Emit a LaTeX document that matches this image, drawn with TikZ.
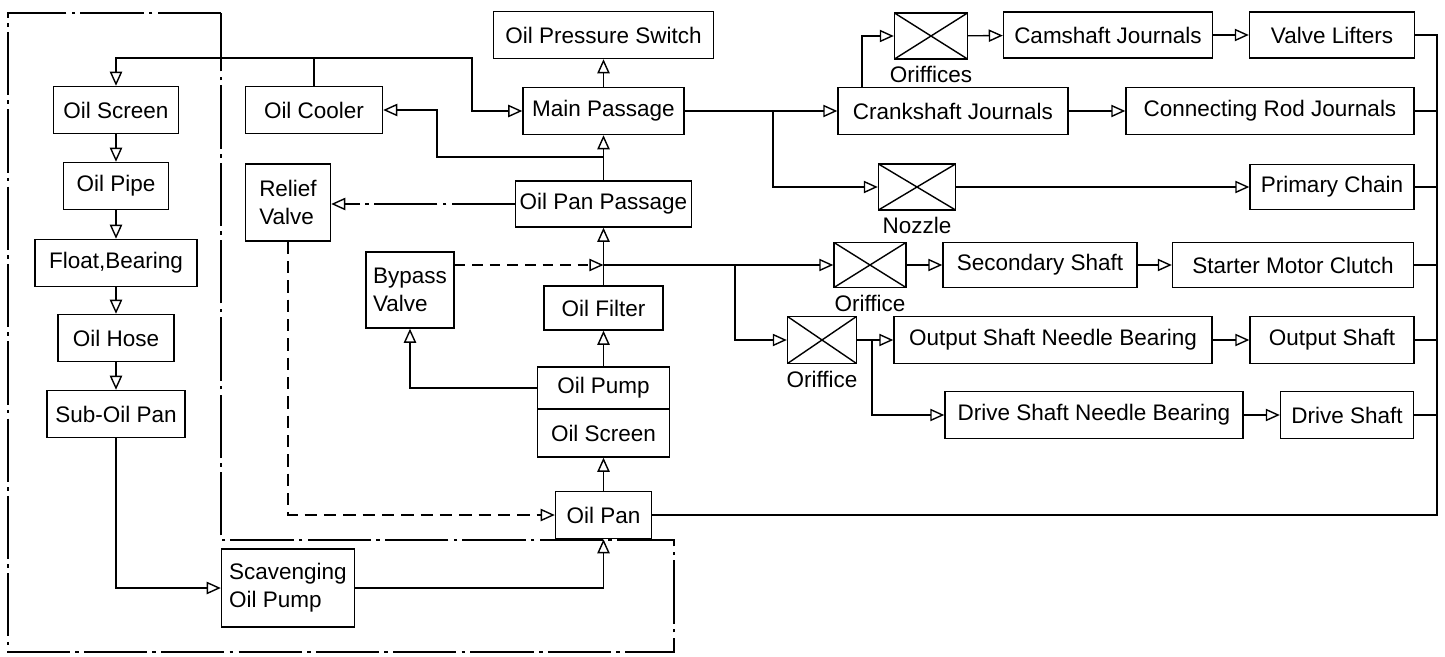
\documentclass[tikz,border=0pt]{standalone}
\usepackage{fontspec}
\setmainfont{Liberation Sans}
\usepackage{tikz}
\usetikzlibrary{shapes,positioning,calc}
\usetikzlibrary{arrows.meta}
\tikzstyle{part} = [rectangle, minimum height=0.94cm, text centered, draw=black, inner sep=2pt]
\tikzstyle{twoline} = [rectangle, align=left, draw=black, inner sep=2pt]
\tikzstyle{orifice} = [rectangle, minimum width=1.44cm, minimum height=0.92cm, draw=black,
path picture={\draw (path picture bounding box.north west) -- (path picture bounding box.south east)
(path picture bounding box.south west) -- (path picture bounding box.north east);}]
\tikzstyle{arrow} = [->,>={Triangle[open,length=8pt,width=7pt]}]
\tikzstyle{dashdot} = [dash pattern=on 36pt off 3pt on 2pt off 3pt]
\tikzstyle{returnline} = [dash pattern=on 7pt off 4pt]
\tikzstyle{bypassline} = [dash pattern=on 6pt off 4pt]

\begin{document}
\begin{tikzpicture}[line width=0.8pt, font=\fontsize{12.8}{16}\selectfont]
	\useasboundingbox (0,0) rectangle (28.9,-13.14);
	% scavenging side
	\node (screenA) at (2.32,-2.20) [part, minimum width=2.5cm] {Oil Screen};
	\node (pipe) at (2.32,-3.72) [part, minimum width=2.1cm] {Oil Pipe};
	\node (float) at (2.32,-5.26) [part, minimum width=3.24cm] {Float,Bearing};
	\node (hose) at (2.32,-6.76) [part, minimum width=2.32cm] {Oil Hose};
	\node (subpan) at (2.32,-8.28) [part, minimum width=2.76cm] {Sub-Oil Pan};
	\node (scav) at (5.76,-11.76) [twoline, minimum width=2.66cm, minimum height=1.56cm] {Scavenging\\Oil Pump};
	\node (cooler) at (6.28,-2.20) [part, minimum width=2.74cm] {Oil Cooler};
	\node (relief) at (5.76,-4.05) [twoline, minimum width=1.7cm, minimum height=1.54cm] {Relief\\Valve};
	\node (bypass) at (8.20,-5.80) [twoline, minimum width=1.76cm, minimum height=1.52cm] {Bypass\\Valve};
	% centre column
	\node (switch) at (12.07,-0.70) [part, minimum width=4.4cm] {Oil Pressure Switch};
	\node (mainp) at (12.07,-2.22) [part, minimum width=3.22cm] {Main Passage};
	\node (panpass) at (12.07,-4.08) [part, minimum width=3.52cm, minimum height=0.92cm] {Oil Pan Passage};
	\node (filter) at (12.07,-6.16) [part, minimum width=2.38cm, minimum height=0.88cm] {Oil Filter};
	\node (pump) at (12.07,-7.76) [part, minimum width=2.64cm, minimum height=0.84cm] {Oil Pump};
	\node (screenB) at (12.07,-8.66) [part, minimum width=2.64cm, minimum height=0.96cm] {Oil Screen};
	\node (pan) at (12.07,-10.30) [part, minimum width=1.92cm] {Oil Pan};
	% lubricated parts
	\node (orifA) at (18.62,-0.72) [orifice, minimum width=1.46cm] {};
	\node (orifAlbl) [below=0pt of orifA] {Oriffices};
	\node (cam) at (22.16,-0.70) [part, minimum width=4.18cm, minimum height=0.92cm] {Camshaft Journals};
	\node (lifters) at (26.64,-0.70) [part, minimum width=3.30cm, minimum height=0.92cm] {Valve Lifters};
	\node (crank) at (19.06,-2.22) [part, minimum width=4.6cm] {Crankshaft Journals};
	\node (conrod) at (25.40,-2.22) [part, minimum width=5.76cm] {Connecting Rod Journals};
	\node (nozzle) at (18.34,-3.74) [orifice, minimum width=1.54cm] {};
	\node (nozzlelbl) [below=0pt of nozzle] {Nozzle};
	\node (chain) at (26.64,-3.74) [part, minimum width=3.28cm, minimum height=0.9cm] {Primary Chain};
	\node (orifB) at (17.40,-5.30) [orifice, minimum height=0.9cm] {};
	\node (orifBlbl) [below=0pt of orifB] {Oriffice};
	\node (secshaft) at (20.80,-5.30) [part, minimum width=3.88cm, minimum height=0.9cm] {Secondary Shaft};
	\node (starter) at (25.86,-5.30) [part, minimum width=4.82cm, minimum height=0.9cm] {Starter Motor Clutch};
	\node (orifC) at (16.44,-6.80) [orifice, minimum width=1.38cm, minimum height=0.94cm] {};
	\node (orifClbl) [below=0pt of orifC] {Oriffice};
	\node (outneedle) at (21.06,-6.80) [part, minimum width=6.36cm] {Output Shaft Needle Bearing};
	\node (outshaft) at (26.64,-6.80) [part, minimum width=3.28cm] {Output Shaft};
	\node (driveneedle) at (21.88,-8.30) [part, minimum width=5.96cm] {Drive Shaft Needle Bearing};
	\node (driveshaft) at (26.94,-8.30) [part, minimum width=2.66cm] {Drive Shaft};
	% junctions
	\coordinate (top) at (6.28,-1.16);
	\coordinate (bendA) at (9.44,-1.16);
	\coordinate (coolbr) at (12.07,-3.14);
	\coordinate (coolbend) at (8.74,-3.14);
	\coordinate (filt) at (12.07,-5.30);
	\coordinate (brA) at (15.46,-2.22);
	\coordinate (brB) at (14.70,-5.30);
	\coordinate (brC) at (17.44,-6.80);
	\coordinate (crankup) at (17.24,-1.74);
	\coordinate (retTop) at (28.74,-0.70);
	\coordinate (retBot) at (28.74,-10.30);
	% scavenging chain
	\draw (cooler) -- (top);
	\draw[arrow] (top) -| (screenA);
	\draw[arrow] (top) -- (bendA) |- (mainp);
	\draw[arrow] (screenA) -- (pipe);
	\draw[arrow] (pipe) -- (float);
	\draw[arrow] (float) -- (hose);
	\draw[arrow] (hose) -- (subpan);
	\draw[arrow] (subpan) |- (scav);
	\draw[arrow] (scav) -| (pan);
	% pressure feed
	\draw[arrow] (pan) -- (screenB);
	\draw[arrow] (pump) -- (filter);
	\draw[arrow] (filter) -- (panpass);
	\draw[arrow] (panpass) -- (mainp);
	\draw[arrow] (mainp) -- (switch);
	\draw[arrow] (coolbr) -- (coolbend) |- (cooler);
	\draw[arrow] (pump) -| (bypass);
	\draw[arrow, bypassline] (bypass.east |- filt) -- (filt);
	\draw[arrow, dashdot] (panpass) -- (panpass.west -| relief.east);
	\draw[arrow, returnline] (relief) |- (pan);
	% to the engine
	\draw[arrow] (mainp) -- (crank);
	\draw[arrow] (brA) |- (nozzle);
	\draw[arrow] (crankup) |- (orifA);
	\draw[arrow] (orifA) -- (cam);
	\draw[arrow] (cam) -- (lifters);
	\draw[arrow] (crank) -- (conrod);
	\draw[arrow] (nozzle) -- (chain);
	\draw[arrow] (filt) -- (orifB);
	\draw[arrow] (brB) |- (orifC);
	\draw[arrow] (orifB) -- (secshaft);
	\draw[arrow] (secshaft) -- (starter);
	\draw[arrow] (orifC) -- (outneedle);
	\draw[arrow] (brC) |- (driveneedle);
	\draw[arrow] (outneedle) -- (outshaft);
	\draw[arrow] (driveneedle) -- (driveshaft);
	% return to the oil pan
	\draw (lifters) -- (retTop) -- (retBot) -- (pan);
	\foreach \n in {conrod,chain,starter,outshaft,driveshaft}
		\draw (\n.east) -- (\n.east -| retTop);
	% dry sump boundary
	\draw[dashdot] (4.42,-0.26) -- (0.16,-0.26) -- (0.16,-13.04) -- (13.48,-13.04) -- (13.48,-10.80) -- (4.42,-10.80) -- cycle;
\end{tikzpicture}
\end{document}
